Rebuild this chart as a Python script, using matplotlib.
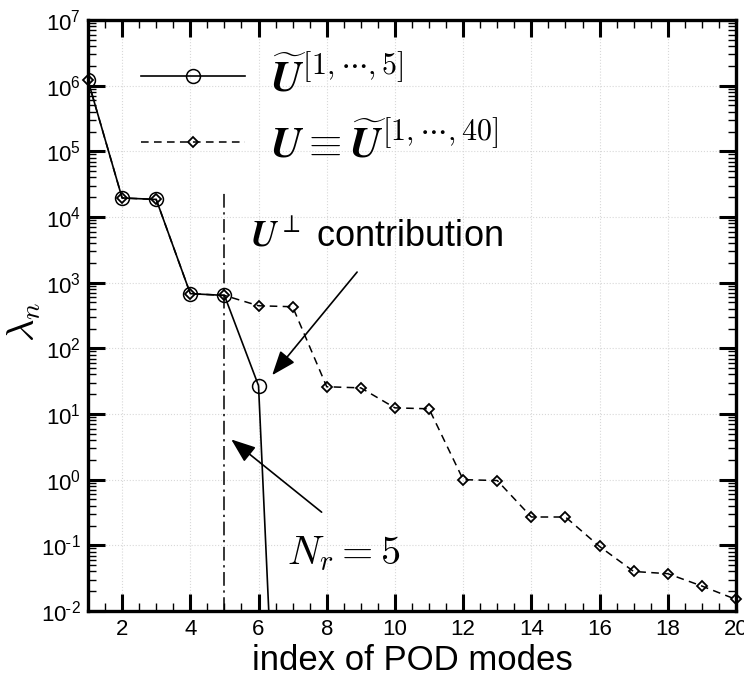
import numpy as np
import matplotlib
matplotlib.use("Agg")
import matplotlib.pyplot as plt
from matplotlib.ticker import MultipleLocator, LogLocator, NullFormatter, FuncFormatter

plt.rcParams['font.family'] = ['Liberation Sans', 'DejaVu Sans']
plt.rcParams['mathtext.fontset'] = 'cm'
plt.rcParams['axes.unicode_minus'] = False

# Data
modes_full = list(range(1, 21))
lambda_full = [1.2e6, 1.95e4, 1.85e4, 680, 640, 445, 430, 26, 25, 12.4,
               12.0, 1.0, 0.97, 0.27, 0.27, 0.096, 0.040, 0.037, 0.024, 0.015]
modes_red = [1, 2, 3, 4, 5, 6, 7]
lambda_red = [1.2e6, 1.95e4, 1.85e4, 680, 640, 27, 1e-10]

label_red = r'$\widetilde{\boldsymbol{U}}^{[1,\cdots,5]}$'
label_full = r'$\boldsymbol{U} \equiv \widetilde{\boldsymbol{U}}^{[1,\cdots,40]}$'
Nr = 5


def log_fmt(v, pos):
    e = int(round(np.log10(v)))
    if e < 0:
        return r'$\mathdefault{10^{\text{-}%d}}$' % (-e)
    return r'$\mathdefault{10^{%d}}$' % e


fig = plt.figure(figsize=(7.44, 6.79), dpi=100)
ax = fig.add_axes([88/744, 1-611/679, 648/744, 591/679])

ax.plot(modes_red, lambda_red, '-', color='black', lw=1.2, marker='o', ms=10,
        mfc='none', mec='black', mew=1.1, label=label_red, zorder=3)
ax.plot(modes_full, lambda_full, color='black', lw=1.1, ls=(0, (5, 3.5)), marker='D',
        ms=5.5, mfc='none', mec='black', mew=1.3, label=label_full, zorder=4,
        clip_on=False)

ax.vlines(Nr, 1e-2, 2.3e4, colors='black', linestyles=(0, (9, 3, 1.5, 3)), lw=1.1, zorder=2)

ax.set_yscale('log')
ax.set_xlim(1, 20)
ax.set_ylim(1e-2, 1e7)

ax.xaxis.set_major_locator(MultipleLocator(2))
ax.xaxis.set_minor_locator(MultipleLocator(0.5))
ax.yaxis.set_major_locator(LogLocator(base=10, numticks=20))
ax.yaxis.set_major_formatter(FuncFormatter(log_fmt))
ax.yaxis.set_minor_locator(LogLocator(base=10, subs=np.arange(2, 10), numticks=20))
ax.yaxis.set_minor_formatter(NullFormatter())

ax.tick_params(which='major', direction='in', length=12, width=2.2, top=True, right=True,
               labelsize=16, pad=6)
ax.tick_params(axis='y', which='major', pad=5)
ax.tick_params(which='minor', direction='in', length=6, width=1.0, top=True, right=True)
for s in ax.spines.values():
    s.set_linewidth(2.4)

ax.grid(True, which='major', color='#d8d8d8', ls=':', lw=0.8)

ax.set_xlabel('index of POD modes', fontsize=25, labelpad=3)
ax.set_ylabel(r'$\lambda_n$', fontsize=28)
ax.yaxis.set_label_coords(-0.07, 0.49)

leg = ax.legend(loc='upper left', bbox_to_anchor=(0.049, 0.975), frameon=False,
                fontsize=31, handlelength=2.4, handletextpad=0.58, labelspacing=0.5,
                numpoints=1, borderpad=0)

arrow_style = '-|>,head_length=0.5,head_width=0.19'
ax.text(9.45, 3500, r'$\boldsymbol{U}^{\perp}$ contribution', fontsize=26,
        ha='center', va='baseline')
ax.annotate('', xy=(6.4, 39), xytext=(8.89, 1450),
            arrowprops=dict(arrowstyle=arrow_style, color='black', lw=1.2, mutation_scale=30,
                            shrinkA=0, shrinkB=0))
ax.annotate('', xy=(5.2, 4.1), xytext=(7.85, 0.32),
            arrowprops=dict(arrowstyle=arrow_style, color='black', lw=1.2, mutation_scale=30,
                            shrinkA=0, shrinkB=0))
ax.text(6.84, 0.075, r'$N_r = 5$', fontsize=29, ha='left', va='center')

fig.savefig('out.png', dpi=100)
